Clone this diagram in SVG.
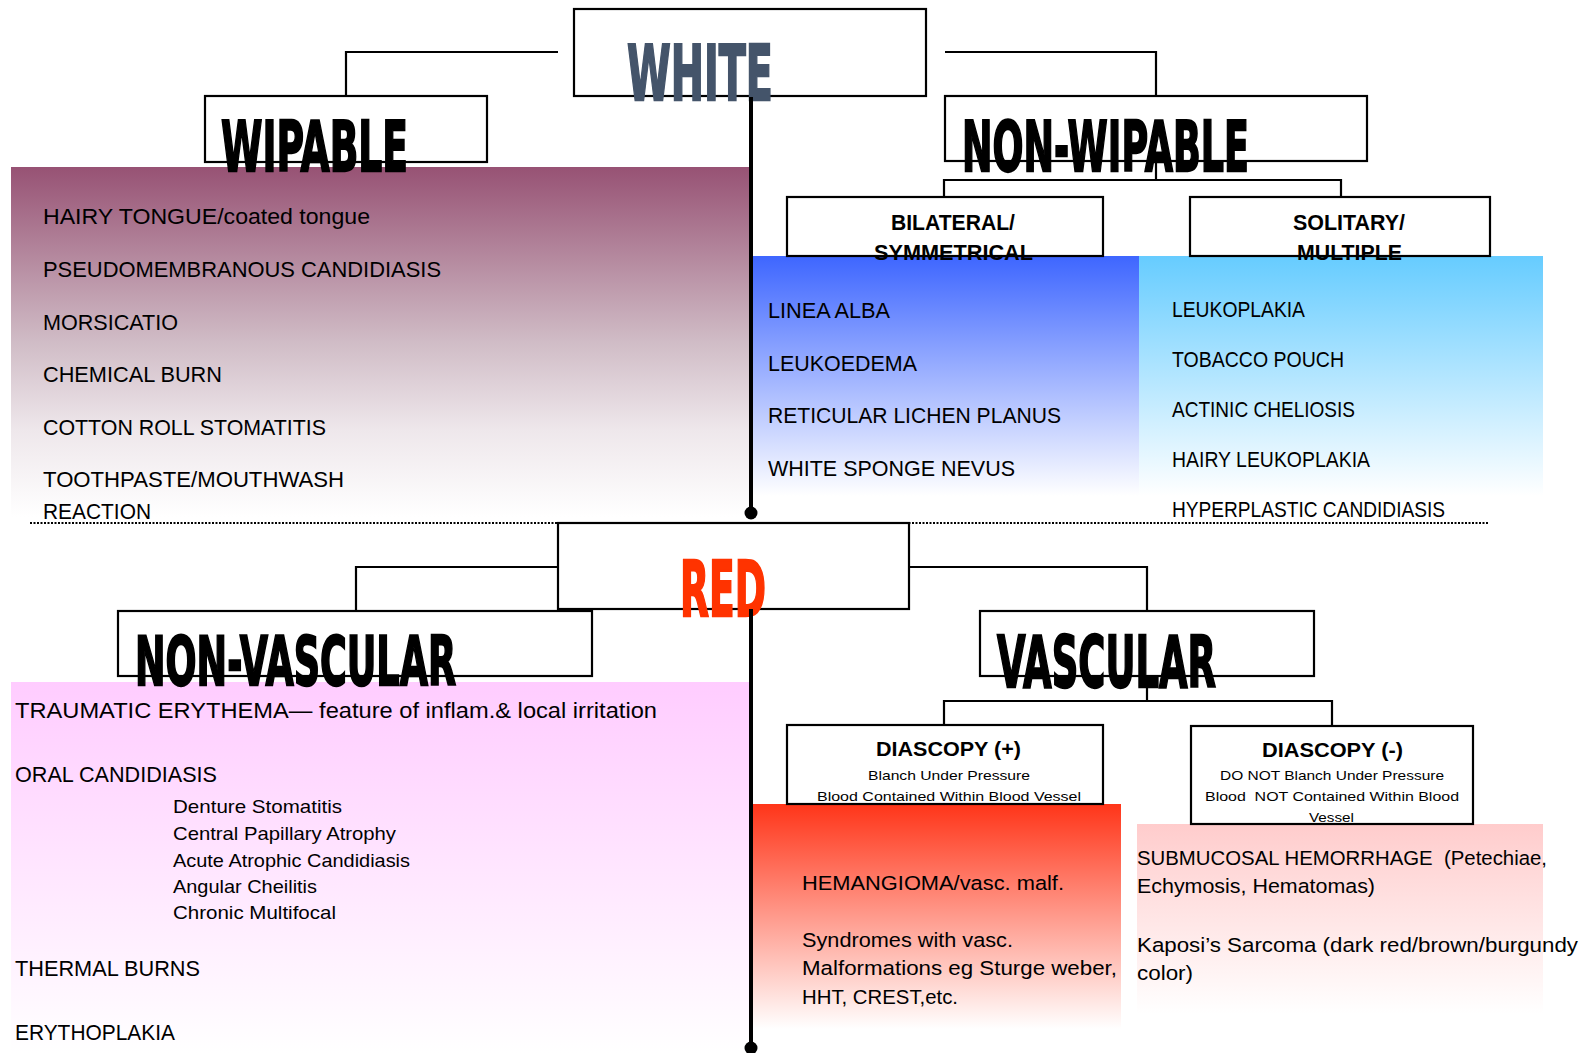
<svg xmlns="http://www.w3.org/2000/svg" width="1591" height="1053" viewBox="0 0 1591 1053">
<style>
.box{fill:#fff;stroke:#000;stroke-width:2.2}
.ln{fill:none;stroke:#000;stroke-width:2.2}
.trunk{fill:none;stroke:#000;stroke-width:4}
.head{font-family:"DejaVu Sans","Liberation Sans",sans-serif;font-weight:bold;fill:#000;stroke:#000;stroke-width:2.3;stroke-linejoin:miter}
.item{font-family:"Liberation Sans",Arial,sans-serif;font-size:22px;fill:#000}
.it2{font-family:"Liberation Sans",Arial,sans-serif;font-size:20.5px;fill:#000}
.sub{font-family:"Liberation Sans",Arial,sans-serif;font-size:18.5px;fill:#000}
.lbl{font-family:"Liberation Sans",Arial,sans-serif;font-size:22px;font-weight:bold;fill:#000}
.lbl2{font-family:"Liberation Sans",Arial,sans-serif;font-size:20px;font-weight:bold;fill:#000}
.sm{font-family:"Liberation Sans",Arial,sans-serif;font-size:13.5px;fill:#000}
</style>
<defs>
<linearGradient id="gWip" x1="0" y1="0" x2="0" y2="1">
<stop offset="0" stop-color="#975274"/>
<stop offset="0.5" stop-color="#d0bcc6"/>
<stop offset="0.75" stop-color="#eee7eb"/>
<stop offset="1" stop-color="#ffffff"/>
</linearGradient>
<linearGradient id="gBlue" x1="0" y1="0" x2="0" y2="1">
<stop offset="0" stop-color="#3e66ff"/>
<stop offset="1" stop-color="#ffffff"/>
</linearGradient>
<linearGradient id="gLBlue" x1="0" y1="0" x2="0" y2="1">
<stop offset="0" stop-color="#66ccff"/>
<stop offset="1" stop-color="#ffffff"/>
</linearGradient>
<linearGradient id="gNV" x1="0" y1="0" x2="0" y2="1">
<stop offset="0" stop-color="#ffccff"/>
<stop offset="1" stop-color="#ffffff"/>
</linearGradient>
<linearGradient id="gRed" x1="0" y1="0" x2="0" y2="1">
<stop offset="0" stop-color="#ff3519"/>
<stop offset="1" stop-color="#ffffff"/>
</linearGradient>
<linearGradient id="gPink" x1="0" y1="0" x2="0" y2="1">
<stop offset="0" stop-color="#ffcccc"/>
<stop offset="1" stop-color="#ffffff"/>
</linearGradient>
</defs>
<rect width="1591" height="1053" fill="#fff"/>

<!-- background panels -->
<rect x="11" y="167" width="739" height="350" fill="url(#gWip)"/>
<rect x="752" y="256" width="387" height="240" fill="url(#gBlue)"/>
<rect x="1139" y="256" width="404" height="240" fill="url(#gLBlue)"/>
<rect x="11" y="682" width="739" height="371" fill="url(#gNV)"/>
<rect x="752" y="804" width="369" height="225" fill="url(#gRed)"/>
<rect x="1137" y="824" width="406" height="190" fill="url(#gPink)"/>

<g id="connectors">
<polyline class="ln" points="558,52 346,52 346,96"/>
<polyline class="ln" points="945,52 1156,52 1156,96"/>
<polyline class="ln" points="1156,161 1156,180"/>
<polyline class="ln" points="944,197 944,180 1341,180 1341,197"/>
<line x1="30" y1="523" x2="1488" y2="523" stroke="#000" stroke-width="2" stroke-dasharray="2 1.5"/>
<polyline class="ln" points="558,567 356,567 356,611"/>
<polyline class="ln" points="909,567 1147,567 1147,611"/>
<polyline class="ln" points="1147,676 1147,701"/>
<polyline class="ln" points="944,725 944,701 1332,701 1332,726"/>
</g>

<g id="node-white">
<rect class="box" x="574" y="9" width="352" height="87"/>
<text class="head" x="627" y="100" font-size="77" style="fill:#44546a;stroke:#44546a" textLength="146" lengthAdjust="spacingAndGlyphs">WHITE</text>
</g>

<g id="node-wipable">
<rect class="box" x="205" y="96" width="282" height="66"/>
<text class="head" x="221" y="171" font-size="69" textLength="187" lengthAdjust="spacingAndGlyphs">WIPABLE</text>
<text class="item" x="43" y="224" textLength="327" lengthAdjust="spacingAndGlyphs">HAIRY TONGUE/coated tongue</text>
<text class="item" x="43" y="277" textLength="398" lengthAdjust="spacingAndGlyphs">PSEUDOMEMBRANOUS CANDIDIASIS</text>
<text class="item" x="43" y="330" textLength="135" lengthAdjust="spacingAndGlyphs">MORSICATIO</text>
<text class="item" x="43" y="382" textLength="179" lengthAdjust="spacingAndGlyphs">CHEMICAL BURN</text>
<text class="item" x="43" y="435" textLength="283" lengthAdjust="spacingAndGlyphs">COTTON ROLL STOMATITIS</text>
<text class="item" x="43" y="487" textLength="301" lengthAdjust="spacingAndGlyphs">TOOTHPASTE/MOUTHWASH</text>
<text class="item" x="43" y="519" textLength="108" lengthAdjust="spacingAndGlyphs">REACTION</text>
</g>

<g id="node-nonwipable">
<rect class="box" x="945" y="96" width="422" height="65"/>
<text class="head" x="962" y="171" font-size="69" textLength="287" lengthAdjust="spacingAndGlyphs">NON-WIPABLE</text>
</g>

<g id="node-bilateral">
<rect class="box" x="787" y="197" width="316" height="59"/>
<text class="lbl" x="891" y="230" textLength="124" lengthAdjust="spacingAndGlyphs">BILATERAL/</text>
<text class="lbl" x="874" y="260" textLength="159" lengthAdjust="spacingAndGlyphs">SYMMETRICAL</text>
<text class="item" x="768" y="318" textLength="122" lengthAdjust="spacingAndGlyphs">LINEA ALBA</text>
<text class="item" x="768" y="371" textLength="149" lengthAdjust="spacingAndGlyphs">LEUKOEDEMA</text>
<text class="item" x="768" y="423" textLength="293" lengthAdjust="spacingAndGlyphs">RETICULAR LICHEN PLANUS</text>
<text class="item" x="768" y="476" textLength="247" lengthAdjust="spacingAndGlyphs">WHITE SPONGE NEVUS</text>
</g>

<g id="node-solitary">
<rect class="box" x="1190" y="197" width="300" height="59"/>
<text class="lbl" x="1293" y="230" textLength="112" lengthAdjust="spacingAndGlyphs">SOLITARY/</text>
<text class="lbl" x="1297" y="260" textLength="105" lengthAdjust="spacingAndGlyphs">MULTIPLE</text>
<text class="item" x="1172" y="317" textLength="133" lengthAdjust="spacingAndGlyphs">LEUKOPLAKIA</text>
<text class="item" x="1172" y="367" textLength="172" lengthAdjust="spacingAndGlyphs">TOBACCO POUCH</text>
<text class="item" x="1172" y="417" textLength="183" lengthAdjust="spacingAndGlyphs">ACTINIC CHELIOSIS</text>
<text class="item" x="1172" y="467" textLength="198" lengthAdjust="spacingAndGlyphs">HAIRY LEUKOPLAKIA</text>
<text class="item" x="1172" y="517" textLength="273" lengthAdjust="spacingAndGlyphs">HYPERPLASTIC CANDIDIASIS</text>
</g>

<g id="node-red">
<rect class="box" x="558" y="523" width="351" height="86"/>
<text class="head" x="680" y="616" font-size="77" style="fill:#ff3300;stroke:#ff3300" textLength="86" lengthAdjust="spacingAndGlyphs">RED</text>
</g>

<g id="node-nonvascular">
<rect class="box" x="118" y="611" width="474" height="65"/>
<text class="head" x="135" y="685" font-size="67" textLength="321" lengthAdjust="spacingAndGlyphs">NON-VASCULAR</text>
<text class="item" x="15" y="718" textLength="642" lengthAdjust="spacingAndGlyphs">TRAUMATIC ERYTHEMA— feature of inflam.&amp; local irritation</text>
<text class="item" x="15" y="782" textLength="202" lengthAdjust="spacingAndGlyphs">ORAL CANDIDIASIS</text>
<text class="sub" x="173" y="813" textLength="169" lengthAdjust="spacingAndGlyphs">Denture Stomatitis</text>
<text class="sub" x="173" y="840" textLength="223" lengthAdjust="spacingAndGlyphs">Central Papillary Atrophy</text>
<text class="sub" x="173" y="867" textLength="237" lengthAdjust="spacingAndGlyphs">Acute Atrophic Candidiasis</text>
<text class="sub" x="173" y="893" textLength="144" lengthAdjust="spacingAndGlyphs">Angular Cheilitis</text>
<text class="sub" x="173" y="919" textLength="163" lengthAdjust="spacingAndGlyphs">Chronic Multifocal</text>
<text class="item" x="15" y="976" textLength="185" lengthAdjust="spacingAndGlyphs">THERMAL BURNS</text>
<text class="item" x="15" y="1040" textLength="160" lengthAdjust="spacingAndGlyphs">ERYTHOPLAKIA</text>
</g>

<g id="node-vascular">
<rect class="box" x="980" y="611" width="334" height="65"/>
<text class="head" x="997" y="687" font-size="71" textLength="219" lengthAdjust="spacingAndGlyphs">VASCULAR</text>
</g>

<g id="node-diascopy-pos">
<rect class="box" x="787" y="725" width="316" height="79"/>
<text class="lbl2" x="876" y="756" textLength="145" lengthAdjust="spacingAndGlyphs">DIASCOPY (+)</text>
<text class="sm" x="868" y="780" textLength="162" lengthAdjust="spacingAndGlyphs">Blanch Under Pressure</text>
<text class="sm" x="817" y="801" textLength="264" lengthAdjust="spacingAndGlyphs">Blood Contained Within Blood Vessel</text>
<text class="it2" x="802" y="890" textLength="262" lengthAdjust="spacingAndGlyphs">HEMANGIOMA/vasc. malf.</text>
<text class="it2" x="802" y="947" textLength="211" lengthAdjust="spacingAndGlyphs">Syndromes with vasc.</text>
<text class="it2" x="802" y="975" textLength="315" lengthAdjust="spacingAndGlyphs">Malformations eg Sturge weber,</text>
<text class="it2" x="802" y="1004" textLength="156" lengthAdjust="spacingAndGlyphs">HHT, CREST,etc.</text>
</g>

<g id="node-diascopy-neg">
<rect class="box" x="1191" y="726" width="282" height="98"/>
<text class="lbl2" x="1262" y="757" textLength="141" lengthAdjust="spacingAndGlyphs">DIASCOPY (-)</text>
<text class="sm" x="1220" y="780" textLength="224" lengthAdjust="spacingAndGlyphs">DO NOT Blanch Under Pressure</text>
<text class="sm" x="1205" y="801" textLength="254" lengthAdjust="spacingAndGlyphs" xml:space="preserve">Blood  NOT Contained Within Blood</text>
<text class="sm" x="1309" y="822" textLength="45" lengthAdjust="spacingAndGlyphs">Vessel</text>
<text class="it2" x="1137" y="865" textLength="410" lengthAdjust="spacingAndGlyphs" xml:space="preserve">SUBMUCOSAL HEMORRHAGE  (Petechiae,</text>
<text class="it2" x="1137" y="893" textLength="238" lengthAdjust="spacingAndGlyphs">Echymosis, Hematomas)</text>
<text class="it2" x="1137" y="952" textLength="441" lengthAdjust="spacingAndGlyphs">Kaposi’s Sarcoma (dark red/brown/burgundy</text>
<text class="it2" x="1137" y="980" textLength="56" lengthAdjust="spacingAndGlyphs">color)</text>
</g>

<g id="trunk">
<line class="trunk" x1="751" y1="97" x2="751" y2="513"/>
<circle cx="751" cy="513" r="6.5" fill="#000"/>
<line class="trunk" x1="751" y1="609" x2="751" y2="1048"/>
<circle cx="751" cy="1048" r="6.5" fill="#000"/>
</g>
</svg>
